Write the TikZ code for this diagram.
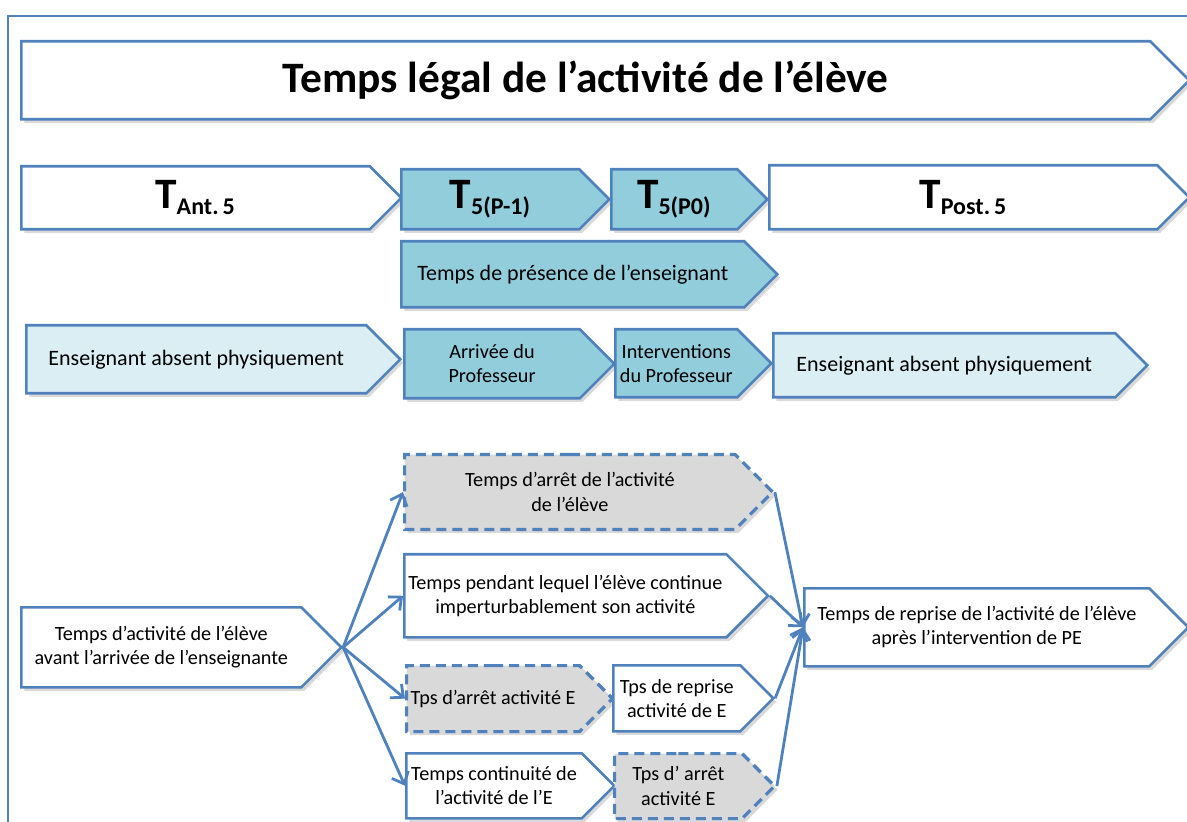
\documentclass[tikz,border=0pt]{standalone}
\usepackage{fontspec}
\setmainfont{Carlito}
\usetikzlibrary{arrows.meta,positioning,shapes.symbols,shadows}

\definecolor{lineblue}{RGB}{79,129,189}
\definecolor{boxblue}{RGB}{146,205,220}
\definecolor{paleblue}{RGB}{219,238,243}
\definecolor{boxgray}{RGB}{217,217,217}

\tikzset{
  sig/.style={signal,signal to=east,draw=lineblue,line width=1.3pt,fill=white,anchor=north west,
    inner sep=2pt,align=center,font=\fontsize{10.1}{12.2}\selectfont,
    drop shadow={shadow xshift=1.5pt,shadow yshift=-1.8pt,opacity=0.3}},
  bluesig/.style={sig,fill=boxblue},
  palesig/.style={sig,fill=paleblue},
  graysig/.style={sig,fill=boxgray,dash pattern=on 5pt off 3pt,line width=1.6pt},
  bigfont/.style={font=\fontsize{21.7}{24}\selectfont\bfseries},
  midfont/.style={font=\fontsize{11}{13}\selectfont},
  flow/.style={draw=lineblue,line width=1.4pt,-{Straight Barb[length=5pt,width=9pt]}},
}
\newcommand{\Tlab}[1]{T\textsubscript{\fontsize{12}{12}\selectfont #1}}

\begin{document}
\begin{tikzpicture}[x=0.5pt,y=-0.5pt]
\useasboundingbox (0,0) rectangle (1187,822);
\draw[lineblue,line width=0.6pt] (8,822) -- (8,16) -- (1187,16);

% bandeau du haut
\node[sig,bigfont,minimum width=584pt,minimum height=39pt] (titre) at (20,40) {Temps légal de l’activité de l’élève};

% decoupage du temps
\node[sig,bigfont,minimum width=190pt,minimum height=31.5pt] (tant) at (20,165) {\Tlab{Ant.\,5}};
\node[bluesig,bigfont,minimum width=104pt,minimum height=30pt] (tpm) at (400,168) {\Tlab{5(P-1)}};
\node[bluesig,bigfont,minimum width=78pt,minimum height=30pt] (tpz) at (610,168) {\Tlab{5(P0)}};
\node[sig,bigfont,minimum width=210pt,minimum height=32pt] (tpost) at (768,164) {\Tlab{Post.\,5}};

\node[bluesig,midfont,minimum width=188pt,minimum height=33pt] (pres) at (400,240) {Temps de présence de l’enseignant};

\node[palesig,midfont,minimum width=187pt,minimum height=34pt] (abs1) at (25,324) {Enseignant absent physiquement};
\node[bluesig,minimum width=105pt,minimum height=34.5pt] (arr) at (403,328) {Arrivée du\\Professeur};
\node[bluesig,minimum width=78pt,minimum height=34pt] (inter) at (614,328) {Interventions\\du Professeur};
\node[palesig,midfont,minimum width=187pt,minimum height=32pt] (abs2) at (772,332) {Enseignant absent physiquement};

% activite de l'eleve
\node[sig,minimum width=160pt,minimum height=40pt] (avant) at (20,606) {Temps d’activité de l’élève\\avant l’arrivée de l’enseignante};
\node[graysig,minimum width=184pt,minimum height=37.5pt] (arret) at (403,453) {Temps d’arrêt de l’activité\\de l’élève};
\node[sig,minimum width=179pt,minimum height=41.5pt] (continue) at (403,553) {Temps pendant lequel l’élève continue\\imperturbablement son activité};
\node[graysig,minimum width=103pt,minimum height=33pt] (tpsarret) at (405,664) {Tps d’arrêt activité E};
\node[sig,minimum width=80pt,minimum height=33pt] (reprise) at (612,664) {Tps de reprise\\activité de E};
\node[sig,minimum width=104pt,minimum height=32.5pt] (contE) at (405,752) {Temps continuité de\\l’activité de l’E};
\node[graysig,minimum width=80pt,minimum height=32.5pt] (arretE) at (613,752) {Tps d’ arrêt\\activité E};
\node[sig,minimum width=192pt,minimum height=39pt] (apres) at (803,587) {Temps de reprise de l’activité de l’élève\\après l’intervention de PE};

\draw[flow] (avant.east) -- (arret.west);
\draw[flow] (avant.east) -- (continue.west);
\draw[flow] (avant.east) -- (tpsarret.west);
\draw[flow] (avant.east) -- (contE.west);
\draw[flow] (arret.east) -- (apres.west);
\draw[flow] (continue.east) -- (apres.west);
\draw[flow] (reprise.east) -- (apres.west);
\draw[flow] (arretE.east) -- (apres.west);
\end{tikzpicture}
\end{document}
